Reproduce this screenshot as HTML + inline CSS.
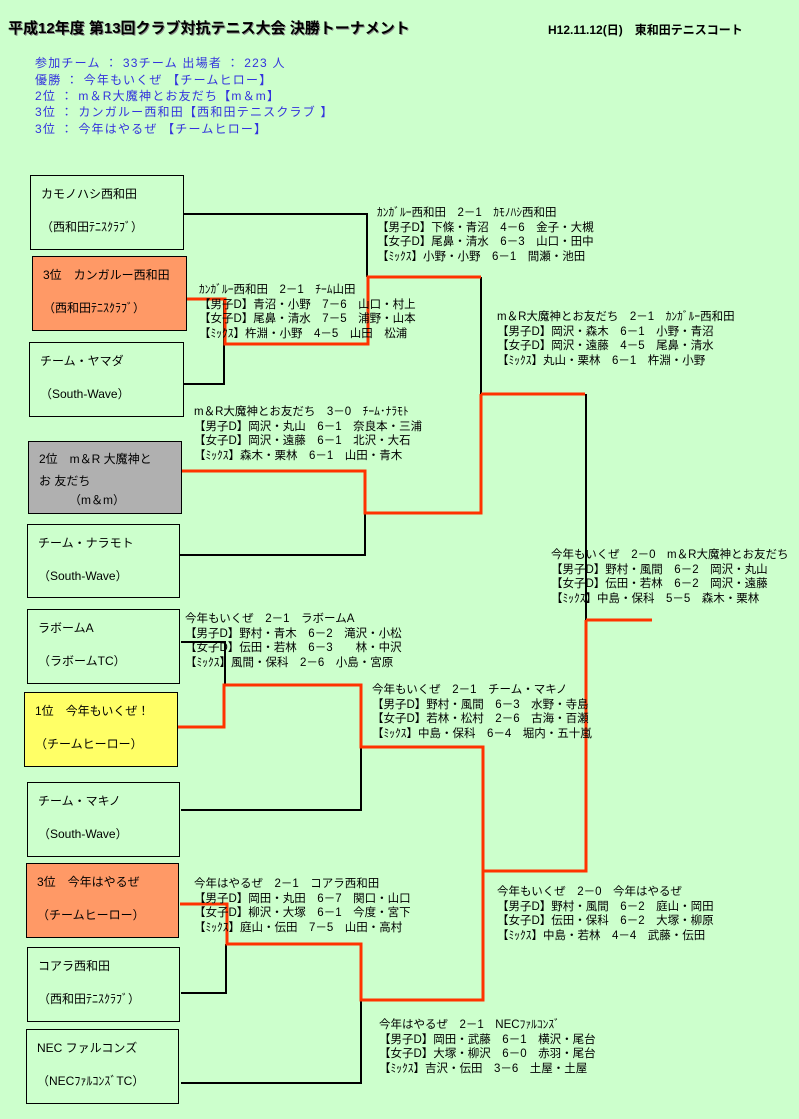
<!DOCTYPE html>
<html><head><meta charset="utf-8"><style>
body{margin:0;width:799px;height:1119px;background:#ccffcc;position:relative;overflow:hidden;font-family:"Liberation Sans","Noto Sans CJK JP",sans-serif;font-size:12px;color:#000}
.a{position:absolute;white-space:nowrap;line-height:15px}
.b{position:absolute;border:1px solid #000;box-sizing:border-box}
.b div{position:absolute;left:10px;white-space:nowrap;font-size:12px;line-height:14px}
.m{position:absolute;white-space:nowrap;font-size:11.5px;line-height:14.5px}
svg{position:absolute;left:0;top:0}
.info{position:absolute;left:35px;color:#3333dd;font-size:12px;white-space:nowrap;letter-spacing:1.2px}
</style></head><body>
<div class="a" style="left:8px;top:21px;font-size:15px;font-weight:bold;text-shadow:1px 1px 0 #888">平成12年度 第13回クラブ対抗テニス大会 決勝トーナメント</div>
<div class="a" style="left:548px;top:23px;font-size:12px;font-weight:bold">H12.11.12(日)　東和田テニスコート</div>
<div class="info" style="top:54px">参加チーム ： 33チーム 出場者 ： 223 人</div>
<div class="info" style="top:71px">優勝 ：  今年もいくぜ 【チームヒロー】</div>
<div class="info" style="top:87px">2位 ： m＆R大魔神とお友だち【m＆m】</div>
<div class="info" style="top:103px">3位 ： カンガルー西和田【西和田テニスクラブ 】</div>
<div class="info" style="top:120px">3位 ： 今年はやるぜ 【チームヒロー】</div>

<div class="b" style="left:30px;top:175px;width:154px;height:75px"><div style="top:11px">カモノハシ西和田</div><div style="top:44px">（西和田ﾃﾆｽｸﾗﾌﾞ）</div></div>
<div class="b" style="left:32px;top:256px;width:155px;height:75px;background:#ff9966"><div style="top:11px">3位　カンガルー西和田</div><div style="top:44px">（西和田ﾃﾆｽｸﾗﾌﾞ）</div></div>
<div class="b" style="left:29px;top:342px;width:155px;height:75px"><div style="top:11px">チーム・ヤマダ</div><div style="top:44px">（South-Wave）</div></div>
<div class="b" style="left:28px;top:441px;width:154px;height:73px;background:#b0b0b0"><div style="top:10px">2位　m＆R 大魔神と</div><div style="top:32px">お 友だち</div><div style="top:51px;left:40px">（m＆m）</div></div>
<div class="b" style="left:27px;top:524px;width:153px;height:74px"><div style="top:11px">チーム・ナラモト</div><div style="top:44px">（South-Wave）</div></div>
<div class="b" style="left:27px;top:609px;width:153px;height:75px"><div style="top:11px">ラボームA</div><div style="top:44px">（ラボームTC）</div></div>
<div class="b" style="left:24px;top:692px;width:154px;height:75px;background:#ffff66"><div style="top:11px">1位　今年もいくぜ！</div><div style="top:44px">（チームヒーロー）</div></div>
<div class="b" style="left:27px;top:782px;width:153px;height:75px"><div style="top:11px">チーム・マキノ</div><div style="top:44px">（South-Wave）</div></div>
<div class="b" style="left:26px;top:863px;width:153px;height:75px;background:#ff9966"><div style="top:11px">3位　今年はやるぜ</div><div style="top:44px">（チームヒーロー）</div></div>
<div class="b" style="left:27px;top:947px;width:153px;height:75px"><div style="top:11px">コアラ西和田</div><div style="top:44px">（西和田ﾃﾆｽｸﾗﾌﾞ）</div></div>
<div class="b" style="left:26px;top:1029px;width:153px;height:75px"><div style="top:11px">NEC ファルコンズ</div><div style="top:44px">（NECﾌｧﾙｺﾝｽﾞTC）</div></div>

<svg width="799" height="1119">
<g stroke="#000" stroke-width="2" fill="none">
<polyline points="184,214 367,214 367,277"/>
<polyline points="184,384 224,384 224,299"/>
<polyline points="481,277 481,394"/>
<polyline points="180,555 365,555 365,512"/>
<polyline points="586,394 586,620"/>
<polyline points="181,642 225,642 225,685"/>
<polyline points="181,810 361,810 361,747"/>
<polyline points="181,993 226,993 226,944"/>
<polyline points="483,871 483,1000"/>
<polyline points="181,1083 361,1083 361,1000"/>
</g>
<g stroke="#ff3300" stroke-width="3" fill="none">
<polyline points="187,299 225,299 225,344 368,344 368,277 481,277"/>
<polyline points="481,394 585,394"/>
<polyline points="182,471 365,471 365,513 481,513 481,394"/>
<polyline points="586,620 652,620"/>
<polyline points="178,727 224,727 224,685 361,685 361,747 483,747 483,871 586,871 586,620"/>
<polyline points="180,904 227,904 227,944 361,944 361,1000 483,1000 483,871"/>
</g>
</svg>

<div class="m" style="left:377px;top:206px">ｶﾝｶﾞﾙｰ西和田　2－1　ｶﾓﾉﾊｼ西和田<br>【男子D】下條・青沼　4－6　金子・大槻<br>【女子D】尾鼻・清水　6－3　山口・田中<br>【ﾐｯｸｽ】小野・小野　6－1　間瀬・池田</div>
<div class="m" style="left:199px;top:283px">ｶﾝｶﾞﾙｰ西和田　2－1　ﾁｰﾑ山田<br>【男子D】青沼・小野　7－6　山口・村上<br>【女子D】尾鼻・清水　7－5　浦野・山本<br>【ﾐｯｸｽ】杵淵・小野　4－5　山田　松浦</div>
<div class="m" style="left:497px;top:310px">m＆R大魔神とお友だち　2－1　ｶﾝｶﾞﾙｰ西和田<br>【男子D】岡沢・森木　6－1　小野・青沼<br>【女子D】岡沢・遠藤　4－5　尾鼻・清水<br>【ﾐｯｸｽ】丸山・栗林　6－1　杵淵・小野</div>
<div class="m" style="left:194px;top:405px">m＆R大魔神とお友だち　3－0　ﾁｰﾑ･ﾅﾗﾓﾄ<br>【男子D】岡沢・丸山　6－1　奈良本・三浦<br>【女子D】岡沢・遠藤　6－1　北沢・大石<br>【ﾐｯｸｽ】森木・栗林　6－1　山田・青木</div>
<div class="m" style="left:551px;top:548px">今年もいくぜ　2－0　m＆R大魔神とお友だち<br>【男子D】野村・風間　6－2　岡沢・丸山<br>【女子D】伝田・若林　6－2　岡沢・遠藤<br>【ﾐｯｸｽ】中島・保科　5－5　森木・栗林</div>
<div class="m" style="left:185px;top:612px">今年もいくぜ　2－1　ラボームA<br>【男子D】野村・青木　6－2　滝沢・小松<br>【女子D】伝田・若林　6－3　　林・中沢<br>【ﾐｯｸｽ】風間・保科　2－6　小島・宮原</div>
<div class="m" style="left:372px;top:683px">今年もいくぜ　2－1　チーム・マキノ<br>【男子D】野村・風間　6－3　水野・寺島<br>【女子D】若林・松村　2－6　古海・百瀬<br>【ﾐｯｸｽ】中島・保科　6－4　堀内・五十嵐</div>
<div class="m" style="left:194px;top:877px">今年はやるぜ　2－1　コアラ西和田<br>【男子D】岡田・丸田　6－7　関口・山口<br>【女子D】柳沢・大塚　6－1　今度・宮下<br>【ﾐｯｸｽ】庭山・伝田　7－5　山田・高村</div>
<div class="m" style="left:497px;top:885px">今年もいくぜ　2－0　今年はやるぜ<br>【男子D】野村・風間　6－2　庭山・岡田<br>【女子D】伝田・保科　6－2　大塚・柳原<br>【ﾐｯｸｽ】中島・若林　4－4　武藤・伝田</div>
<div class="m" style="left:379px;top:1018px">今年はやるぜ　2－1　NECﾌｧﾙｺﾝｽﾞ<br>【男子D】岡田・武藤　6－1　横沢・尾台<br>【女子D】大塚・柳沢　6－0　赤羽・尾台<br>【ﾐｯｸｽ】吉沢・伝田　3－6　土屋・土屋</div>
</body></html>
